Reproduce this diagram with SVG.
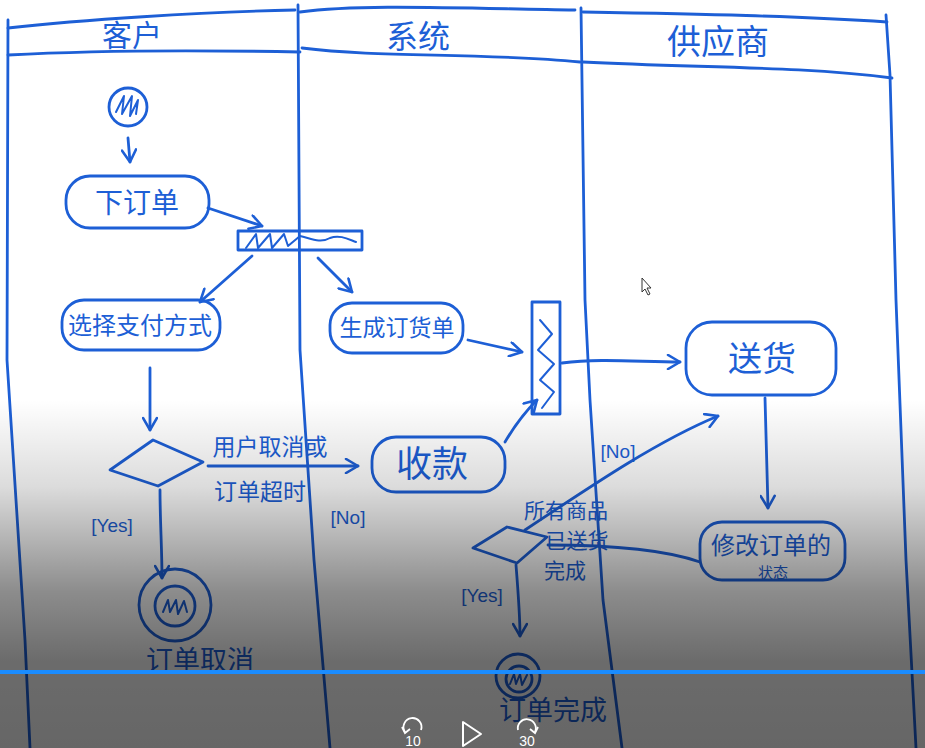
<svg xmlns="http://www.w3.org/2000/svg" width="925" height="748" viewBox="0 0 925 748">
<defs>
<style>
.s{fill:none;stroke:#1d5fd6;stroke-width:2.8;stroke-linecap:round;stroke-linejoin:round}
.sc{fill:none;stroke:#1d5fd6;stroke-width:2;stroke-linecap:round;stroke-linejoin:round}
.t{fill:#1d5fd6;font-family:"Noto Sans CJK SC","Noto Sans",sans-serif;text-anchor:middle}
.lb{fill:#1d5fd6;font-family:"Liberation Sans",sans-serif;text-anchor:middle}
.w{fill:#ffffff;font-family:"Liberation Sans",sans-serif;text-anchor:middle;font-size:14px}
</style>
<marker id="arr" markerWidth="16" markerHeight="16" refX="14" refY="8" orient="auto" markerUnits="userSpaceOnUse">
<path d="M2,1 L14,8 L2,15" fill="none" stroke="#1d5fd6" stroke-width="2.6" stroke-linecap="round" stroke-linejoin="round"/>
</marker>
<linearGradient id="fade" x1="0" y1="0" x2="0" y2="1">
<stop offset="0" stop-color="#000" stop-opacity="0"/>
<stop offset="0.25" stop-color="#000" stop-opacity="0.14"/>
<stop offset="0.55" stop-color="#000" stop-opacity="0.45"/>
<stop offset="0.75" stop-color="#000" stop-opacity="0.58"/>
<stop offset="1" stop-color="#000" stop-opacity="0.6"/>
</linearGradient>
</defs>
<rect width="925" height="748" fill="#ffffff"/>

<g id="lanes">
<path class="s" d="M8,20 L7,360 L25,640 L30,748"/>
<path class="s" d="M298,5 L300,350 L314,560 L330,748"/>
<path class="s" d="M581,8 L585,300 L590,400 L603,600 L622,748"/>
<path class="s" d="M886,15 L890,75 L896,300 L906,560 L916,748"/>
<path class="s" d="M8,28 C80,20 200,12 295,10"/>
<path class="s" d="M8,55 C100,50 200,50 300,52"/>
<path class="s" d="M300,12 C360,4 450,8 575,10"/>
<path class="s" d="M302,48 C380,58 480,52 580,62"/>
<path class="s" d="M583,12 C700,14 800,16 887,22"/>
<path class="s" d="M583,62 C700,68 800,66 892,78"/>
<text class="t" x="132" y="46" font-size="30">客户</text>
<text class="t" x="418" y="48" font-size="32">系统</text>
<text class="t" x="718" y="54" font-size="34">供应商</text>
</g>

<g id="connectors">
<path class="s" d="M128,138 L130,162" marker-end="url(#arr)"/>
<path class="s" d="M208,208 L262,226" marker-end="url(#arr)"/>
<path class="s" d="M252,256 L200,302" marker-end="url(#arr)"/>
<path class="s" d="M318,258 L352,292" marker-end="url(#arr)"/>
<path class="s" d="M468,340 L522,352" marker-end="url(#arr)"/>
<path class="s" d="M562,363 C600,358 640,362 680,362" marker-end="url(#arr)"/>
<path class="s" d="M765,398 L768,508" marker-end="url(#arr)"/>
<path class="s" d="M150,368 L150,430" marker-end="url(#arr)"/>
<path class="s" d="M208,466 L358,466" marker-end="url(#arr)"/>
<path class="s" d="M160,490 C160,520 162,550 162,578" marker-end="url(#arr)"/>
<path class="s" d="M505,442 C515,425 525,412 537,400" marker-end="url(#arr)"/>
<path class="s" d="M525,530 C600,480 660,440 718,416" marker-end="url(#arr)"/>
<path class="s" d="M700,562 C660,548 600,545 548,545"/>
<path class="s" d="M516,565 C518,590 520,615 520,636" marker-end="url(#arr)"/>
<text class="t" x="270" y="455" font-size="23">用户取消或</text>
<text class="t" x="260" y="500" font-size="23">订单超时</text>
<text class="lb" x="348" y="524" font-size="19">[No]</text>
<text class="lb" x="112" y="532" font-size="19">[Yes]</text>
<text class="lb" x="618" y="458" font-size="19">[No]</text>
<text class="lb" x="482" y="602" font-size="19">[Yes]</text>
</g>

<g id="start">
<circle class="s" cx="128" cy="107" r="19"/>
<path class="sc" d="M116,112 L124,96 L122,114 L132,96 L130,116 L138,100 L136,114"/>
</g>

<g id="place-order">
<rect class="s" x="66" y="176" width="143" height="52" rx="24"/>
<text class="t" x="137" y="213" font-size="28">下订单</text>
</g>

<g id="fork">
<rect class="s" x="238" y="231" width="124" height="19"/>
<path class="sc" d="M246,248 L256,234 L258,248 L270,234 L272,248 L284,234 L288,246 L300,236 C310,238 320,244 330,238 C340,234 350,240 356,242"/>
</g>

<g id="choose-payment">
<rect class="s" x="62" y="300" width="158" height="50" rx="22"/>
<text class="t" x="140" y="334" font-size="24">选择支付方式</text>
</g>

<g id="generate-po">
<rect class="s" x="330" y="303" width="133" height="50" rx="22"/>
<text class="t" x="397" y="336" font-size="23">生成订货单</text>
</g>

<g id="sync-bar">
<rect class="s" x="532" y="302" width="28" height="112"/>
<path class="sc" d="M540,320 L552,334 L538,350 L554,364 L540,380 L554,392 L542,408"/>
</g>

<g id="deliver">
<rect class="s" x="686" y="322" width="150" height="73" rx="26"/>
<text class="t" x="762" y="371" font-size="34">送货</text>
</g>

<g id="update-status">
<rect class="s" x="700" y="522" width="145" height="58" rx="22"/>
<text class="t" x="771" y="554" font-size="24">修改订单的</text>
<text class="t" x="773" y="578" font-size="15">状态</text>
</g>

<g id="decision-cancel">
<path class="s" d="M110,470 L153,440 L203,462 L158,486 Z"/>
</g>

<g id="end-cancel">
<circle class="s" cx="175" cy="605" r="36"/>
<circle class="s" cx="175" cy="606" r="20"/>
<path class="sc" d="M163,612 L168,600 L170,612 L176,600 L178,614 L184,601 L187,612"/>
<text class="t" x="200" y="670" font-size="27">订单取消</text>
</g>

<g id="receive-payment">
<rect class="s" x="372" y="437" width="133" height="55" rx="24"/>
<text class="t" x="432" y="477" font-size="36">收款</text>
</g>

<g id="decision-delivered">
<path class="s" d="M473,548 L507,527 L547,537 L517,563 Z"/>
<text class="t" x="566" y="518" font-size="21">所有商品</text>
<text class="t" x="577" y="548" font-size="21">已送货</text>
<text class="t" x="565" y="578" font-size="21">完成</text>
</g>

<g id="end-complete">
<circle class="s" cx="518" cy="676" r="22"/>
<circle class="s" cx="519" cy="679" r="13"/>
<path class="sc" d="M510,684 L514,674 L516,684 L520,674 L522,685 L527,675"/>
<text class="t" x="553" y="720" font-size="27">订单完成</text>
</g>

<rect x="0" y="400" width="925" height="348" fill="url(#fade)"/>

<g id="video-ui">
<line x1="0" y1="672" x2="925" y2="672" stroke="#1a8cff" stroke-width="4"/>
<path d="M405,732 A9,9 0 1 1 421,730" fill="none" stroke="#fff" stroke-width="1.8"/>
<path d="M402,727 L405,733 L410,729" fill="none" stroke="#fff" stroke-width="1.8"/>
<text class="w" x="413" y="746">10</text>
<path d="M463,722 L463,746 L481,734 Z" fill="none" stroke="#fff" stroke-width="2" stroke-linejoin="round"/>
<path d="M518,730 A9,9 0 1 1 535,732" fill="none" stroke="#fff" stroke-width="1.8"/>
<path d="M530,729 L535,733 L538,727" fill="none" stroke="#fff" stroke-width="1.8"/>
<text class="w" x="527" y="746">30</text>
<path d="M642,278 L642,292 L645,289 L648,295 L650,294 L647,288 L651,288 Z" fill="#fff" stroke="#333" stroke-width="1"/>
</g>
</svg>
